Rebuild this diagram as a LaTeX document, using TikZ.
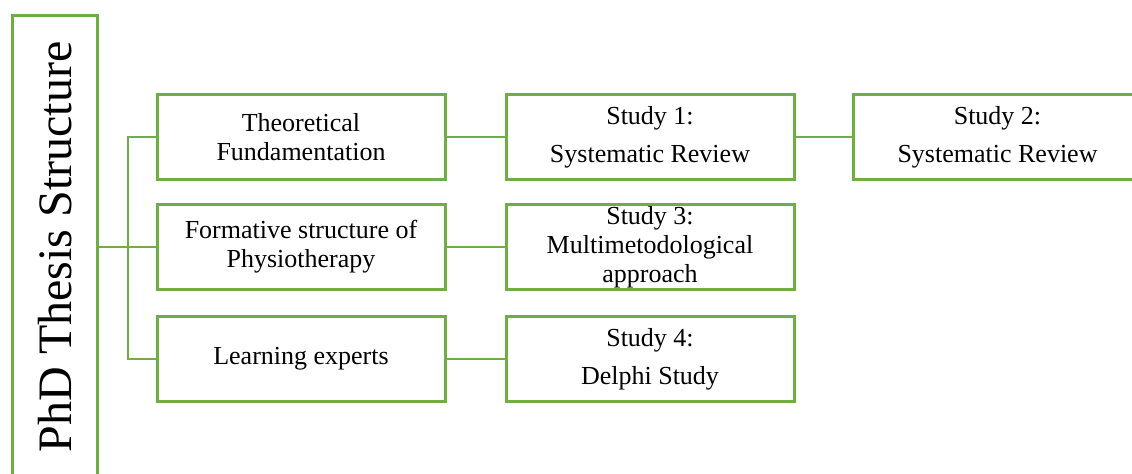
\documentclass[tikz,border=0pt]{standalone}
\usepackage{fontspec}
\setmainfont{Liberation Serif}
\definecolor{boxgreen}{HTML}{70AD47}

\begin{document}
\begin{tikzpicture}[x=0.75pt, y=-0.75pt,
        block/.style={draw=boxgreen, line width=2.25pt, minimum width=216pt, minimum height=63.75pt,
            align=center, inner sep=0pt, font=\fontsize{19.5}{21.75}\selectfont},
        link/.style={draw=boxgreen, line width=1.5pt}]
        \useasboundingbox (0, 0) rectangle (1132, 474);
        \clip (0, 0) rectangle (1132, 474);
        \node[draw=boxgreen, line width=2.25pt, minimum width=347.25pt, minimum height=63.75pt,
            rotate=90, font=\fontsize{36}{40}\selectfont] (thesis) at (55, 247) {PhD Thesis Structure};
        \node[block] (theory) at (301, 137) {Theoretical\\Fundamentation};
        \node[block] (formative) at (301, 247) {Formative structure of\\Physiotherapy};
        \node[block] (experts) at (301, 359) {Learning experts};
        \node[block] (study1) at (650, 137) {Study 1:\\[6.75pt]Systematic Review};
        \node[block] (study2) at (997.5, 137) {Study 2:\\[6.75pt]Systematic Review};
        \node[block] (study3) at (650, 247) {Study 3:\\Multimetodological\\approach};
        \node[block] (study4) at (650, 359) {Study 4:\\[6.75pt]Delphi Study};
        \coordinate (trunk) at (128, 247);
        \draw[link] (thesis.south) -- (formative.west);
        \draw[link] (theory.west) -| (trunk) |- (experts.west);
        \draw[link] (theory.east) -- (study1.west);
        \draw[link] (study1.east) -- (study2.west);
        \draw[link] (formative.east) -- (study3.west);
        \draw[link] (experts.east) -- (study4.west);
    \end{tikzpicture}
\end{document}
